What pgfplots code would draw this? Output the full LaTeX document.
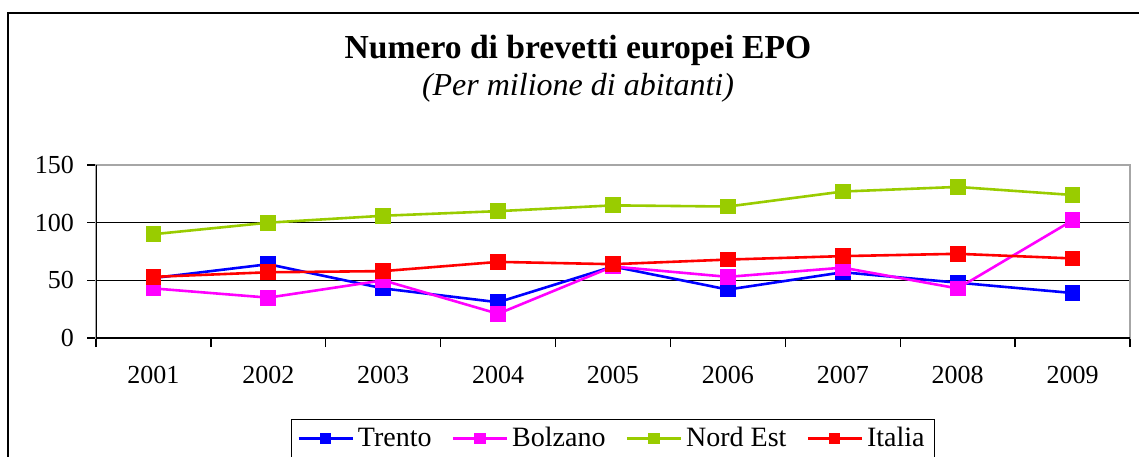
\documentclass[border=0pt]{standalone}
\usepackage{pgfplots}
\pgfplotsset{compat=1.18}
\usepackage{fontspec}
\setmainfont{Liberation Serif}
\definecolor{cTrento}{RGB}{0,0,255}
\definecolor{cBolzano}{RGB}{255,0,255}
\definecolor{cNord}{RGB}{153,204,0}
\definecolor{cItalia}{RGB}{255,0,0}
\begin{document}
\begin{tikzpicture}
\useasboundingbox (0,0) rectangle (569.5pt,228pt);
\draw[line width=0.9pt] (4pt,-20pt) rectangle (590pt,221.5pt);
\node[font=\fontsize{16.8}{19}\selectfont\bfseries] at (289pt,203pt) {Numero di brevetti europei EPO};
\node[font=\fontsize{16}{19}\selectfont\itshape] at (289pt,184pt) {(Per milione di abitanti)};
\begin{axis}[
  at={(48pt,59pt)}, anchor=south west,
  scale only axis, width=517pt, height=86.5pt,
  xmin=0.5, xmax=9.5, ymin=0, ymax=150,
  xtick={1,...,9},
  xticklabels={2001,2002,2003,2004,2005,2006,2007,2008,2009},
  minor xtick={0.5,1.5,...,9.5},
  ytick={0,50,100,150},
  xtick pos=lower, ytick pos=left,
  major x tick style={draw=none},
  minor tick length=4.5pt,
  major tick length=4.5pt,
  tick align=outside,
  tick style={black, line width=0.7pt},
  ymajorgrids, grid style={black, line width=0.5pt},
  axis line style={draw=gray!70, line width=1pt},
  ticklabel style={font=\fontsize{13}{15}\selectfont},
  xticklabel style={yshift=-6pt},
  yticklabel style={xshift=-3pt},
  /pgf/number format/assume math mode=true,
  legend columns=4,
  legend style={at={(0.5,-0.468)}, anchor=north, draw=black, line width=0.6pt,
    font=\fontsize{14}{16}\selectfont, inner ysep=2pt, inner xsep=3pt},
  /tikz/every even column/.append style={column sep=8pt},
  legend image code/.code={\draw[mark repeat=2,mark phase=2,mark size=2.2pt] plot coordinates {(0pt,0pt)(13.5pt,0pt)(27pt,0pt)};},
  every axis plot/.append style={line width=1.3pt, mark=square*, mark size=3.3pt, mark options={solid}},
]
\addplot[color=cTrento] coordinates {(1,52)(2,64)(3,43)(4,31)(5,62)(6,42)(7,57)(8,48)(9,39)};
\addlegendentry{Trento}
\addplot[color=cBolzano] coordinates {(1,43)(2,35)(3,50)(4,21)(5,62)(6,53)(7,61)(8,43)(9,102)};
\addlegendentry{Bolzano}
\addplot[color=cNord] coordinates {(1,90)(2,100)(3,106)(4,110)(5,115)(6,114)(7,127)(8,131)(9,124)};
\addlegendentry{Nord Est}
\addplot[color=cItalia] coordinates {(1,53)(2,57)(3,58)(4,66)(5,64)(6,68)(7,71)(8,73)(9,69)};
\addlegendentry{Italia}
\draw[black, line width=1pt] (rel axis cs:0,1) -- (rel axis cs:0,0) -- (rel axis cs:1,0);
\end{axis}
\end{tikzpicture}
\end{document}
